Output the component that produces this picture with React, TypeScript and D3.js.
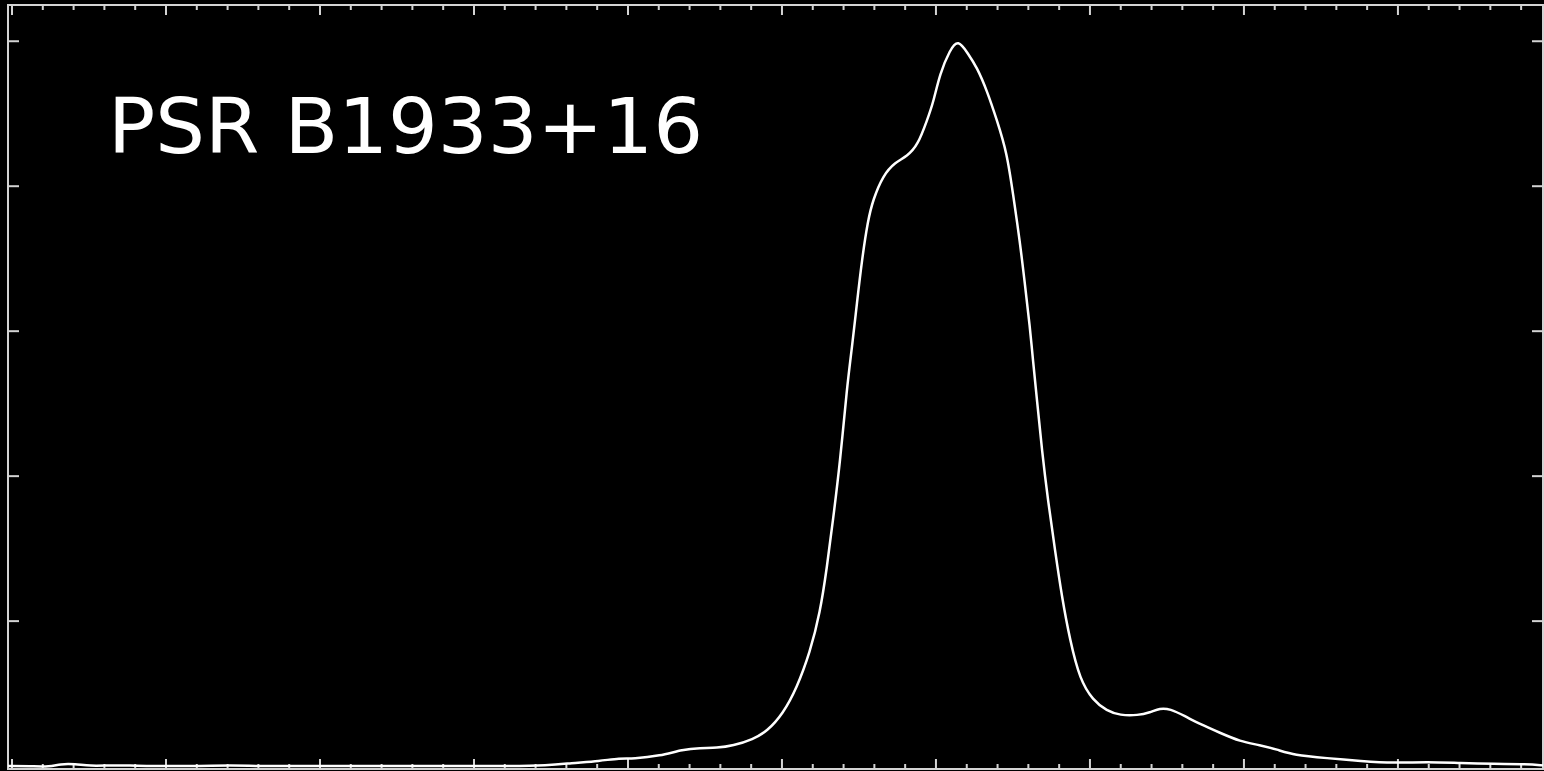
import React, { useRef, useEffect } from 'react';
import * as d3 from 'd3';

// pulse phase (arbitrary units, major tick every 10)
const phase = [
  -0.26, 1.17, 2.47, 3.12, 4.09, 5.06, 6.36, 7.66, 8.96, 12.21, 14.16, 16.1,
  18.7, 21.95, 25.19, 28.44, 31.69, 34.94, 36.23, 38.18, 39.48, 40.32, 42.08,
  43.57, 44.68, 45.78, 46.82, 48.12, 49.03, 50.06, 50.97, 51.82, 52.47, 52.92,
  53.31, 53.77, 54.22, 54.55, 54.87, 55.19, 55.58, 55.91, 56.56, 57.34, 58.12,
  58.83, 59.42, 59.81, 60.26, 60.91, 61.43, 62.08, 62.66, 63.31, 63.96, 64.61,
  65.0, 65.45, 65.78, 66.1, 66.3, 66.56, 66.88, 67.27, 67.73, 68.18, 68.7,
  69.35, 70.19, 71.1, 71.95, 73.12, 73.9, 74.55, 75.19, 76.17, 77.14, 78.44,
  79.74, 81.04, 82.14, 83.25, 85.39, 87.6, 89.74, 91.88, 94.09, 96.23, 98.38,
  99.42,
];

// normalised intensity
const intensity = [
  0, 0, -0.001, 0.003, 0.003, 0, 0.001, 0.001, 0, 0, 0.001, 0,
  0, 0, 0, 0, 0, 0.001, 0.004, 0.007, 0.011, 0.01, 0.014,
  0.023, 0.025, 0.025, 0.028, 0.037, 0.048, 0.072, 0.108, 0.157, 0.211, 0.274,
  0.339, 0.418, 0.523, 0.578, 0.639, 0.698, 0.753, 0.781, 0.815, 0.833, 0.841,
  0.857, 0.891, 0.914, 0.956, 0.988, 1.003, 0.983, 0.964, 0.932, 0.891, 0.846,
  0.79, 0.724, 0.664, 0.606, 0.56, 0.505, 0.436, 0.367, 0.298, 0.233, 0.174,
  0.119, 0.091, 0.076, 0.07, 0.07, 0.074, 0.08, 0.079, 0.069, 0.058, 0.046,
  0.034, 0.029, 0.023, 0.015, 0.011, 0.007, 0.004, 0.006, 0.004, 0.003, 0.003,
  0.001,
];

const yTicks = [0.2, 0.4, 0.6, 0.8, 1.0];
const xMajorTicks = d3.range(0, 100, 10);
const xMinorTicks = d3.range(2, 100, 2).filter(v => v % 10 !== 0);
const title = 'PSR B1933+16';

export default function App() {
  const svgRef = useRef<SVGSVGElement>(null);

  useEffect(() => {
    if (!svgRef.current) return;
    const width = 1544;
    const height = 771;
    const frame = { left: 8, right: 1543, top: 5, bottom: 769 };
    const axisColor = '#d4d4d4';

    const root = d3.select(svgRef.current);
    root.selectAll('*').remove();
    root.attr('width', width).attr('height', height);

    root.append('rect')
      .attr('width', width)
      .attr('height', height)
      .attr('fill', '#000');

    const x = d3.scaleLinear()
      .domain([-0.26, 99.42])
      .range([frame.left, frame.right]);

    const y = d3.scaleLinear()
      .domain([-0.004, 1.05])
      .range([frame.bottom, frame.top]);

    // frame
    root.append('rect')
      .attr('x', frame.left)
      .attr('y', frame.top)
      .attr('width', frame.right - frame.left)
      .attr('height', frame.bottom - frame.top)
      .attr('fill', 'none')
      .attr('stroke', axisColor)
      .attr('stroke-width', 2);

    const ticks = root.append('g')
      .attr('stroke', axisColor)
      .attr('stroke-width', 2);

    // x ticks, top and bottom
    const xTick = (vals: number[], len: number) => {
      vals.forEach(v => {
        ticks.append('line')
          .attr('x1', x(v)).attr('x2', x(v))
          .attr('y1', frame.top).attr('y2', frame.top + len);
        ticks.append('line')
          .attr('x1', x(v)).attr('x2', x(v))
          .attr('y1', frame.bottom).attr('y2', frame.bottom - len);
      });
    };
    xTick(xMajorTicks, 10);
    xTick(xMinorTicks, 5);

    // y ticks, left and right
    yTicks.forEach(v => {
      ticks.append('line')
        .attr('x1', frame.left).attr('x2', frame.left + 11)
        .attr('y1', y(v)).attr('y2', y(v));
      ticks.append('line')
        .attr('x1', frame.right).attr('x2', frame.right - 11)
        .attr('y1', y(v)).attr('y2', y(v));
    });

    const points = phase.map((p, i) => [p, intensity[i]] as [number, number]);

    const line = d3.line<[number, number]>()
      .x(d => x(d[0]))
      .y(d => y(d[1]))
      .curve(d3.curveBasis);

    root.append('path')
      .datum(points)
      .attr('d', line)
      .attr('fill', 'none')
      .attr('stroke', '#fff')
      .attr('stroke-width', 2.5)
      .attr('stroke-linejoin', 'round');

    root.append('text')
      .attr('x', 108)
      .attr('y', 153)
      .attr('textLength', 595)
      .attr('lengthAdjust', 'spacingAndGlyphs')
      .style('font-family', '"DejaVu Sans", sans-serif')
      .style('font-size', '77px')
      .style('fill', '#fff')
      .text(title);
  }, []);

  return (
    <div style={{ position: 'fixed', left: 0, top: 0, width: 1544, height: 771, background: '#000' }}>
      <svg ref={svgRef} style={{ display: 'block' }} />
    </div>
  );
}
